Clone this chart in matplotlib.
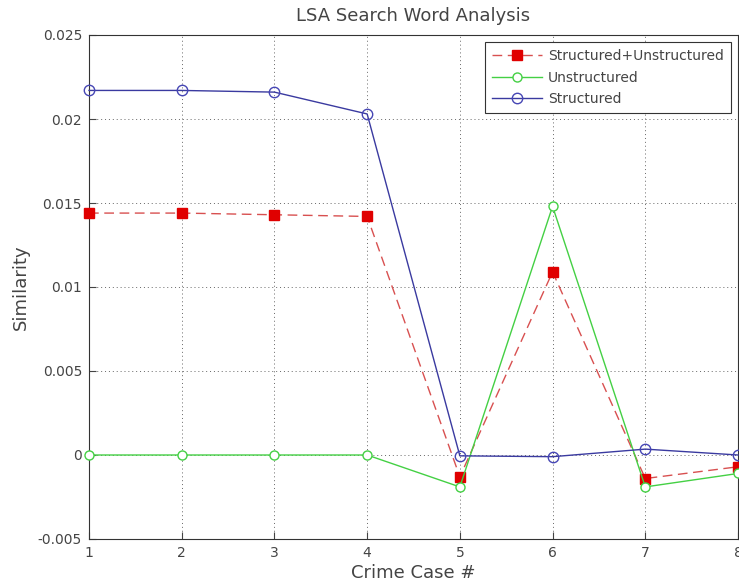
import matplotlib.pyplot as plt

plt.rcParams['font.family'] = ['DejaVu Sans']

cases = [1, 2, 3, 4, 5, 6, 7, 8]
combined = [0.0144, 0.0144, 0.0143, 0.0142, -0.0013, 0.0109, -0.0014, -0.0007]
unstructured = [0.0, 0.0, 0.0, 0.0, -0.0019, 0.0148, -0.0019, -0.0011]
structured = [0.0217, 0.0217, 0.0216, 0.0203, -0.00005, -0.0001, 0.00035, 0.0]

yticks = [-0.005, 0, 0.005, 0.01, 0.015, 0.02, 0.025]
ytick_labels = ['-0.005', '0', '0.005', '0.01', '0.015', '0.02', '0.025']

txt = '#444444'

fig = plt.figure(figsize=(7.39, 5.88), dpi=100)
ax = fig.add_axes([89 / 739, 49 / 588, 649 / 739, 504 / 588])

ax.plot(cases, combined, color='#d85050', linestyle=(0, (7, 4)), linewidth=1.0,
        marker='s', markersize=7, markerfacecolor='#e00000', markeredgecolor='#e00000',
        label='Structured+Unstructured', clip_on=False, zorder=3)
ax.plot(cases, unstructured, color='#44d044', linewidth=1.0,
        marker='o', markersize=6.5, markerfacecolor='white', markeredgecolor='#44d044',
        label='Unstructured', clip_on=False, zorder=3)
ax.plot(cases, structured, color='#3a3aa0', linewidth=1.0,
        marker='o', markersize=7.5, markerfacecolor='none', markeredgecolor='#4646b4',
        label='Structured', clip_on=False, zorder=4)

ax.set_xlim(1, 8)
ax.set_ylim(-0.005, 0.025)
ax.set_xticks(cases)
ax.set_yticks(yticks)
ax.set_yticklabels(ytick_labels)
ax.tick_params(direction='in', length=5, labelsize=10, colors=txt, pad=5)
for s in ax.spines.values():
    s.set_color('#333333')
ax.grid(True, linestyle=(0, (1, 3)), color='#666666', linewidth=0.7)

ax.set_title('LSA Search Word Analysis', fontsize=13, color=txt, pad=10)
ax.set_xlabel('Crime Case #', fontsize=13, color=txt, labelpad=3)
ax.set_ylabel('Similarity', fontsize=13, color=txt, labelpad=6)

leg = ax.legend(loc='upper right', fontsize=10, fancybox=False, framealpha=1,
                edgecolor='#333333', borderaxespad=0.5, handlelength=3.6,
                handletextpad=0.45, labelspacing=0.55, borderpad=0.5)
leg.get_frame().set_linewidth(0.8)
for t in leg.get_texts():
    t.set_color(txt)

fig.savefig('out.png', dpi=100)
